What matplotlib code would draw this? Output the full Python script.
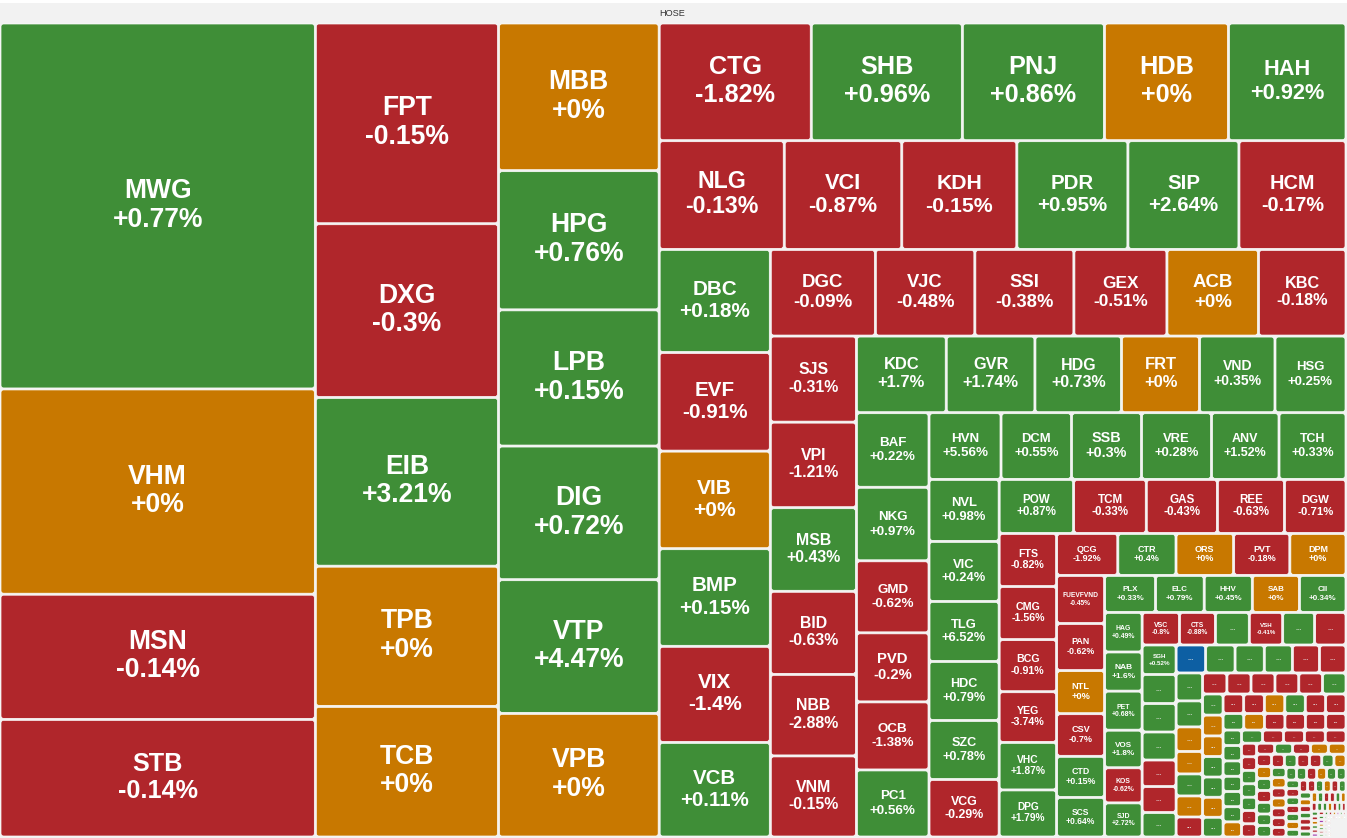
import matplotlib
matplotlib.use("Agg")
import matplotlib.pyplot as plt
from matplotlib.patches import FancyBboxPatch, Rectangle

# ---------------- data ----------------
tickers = [
    "MWG", "VHM", "MSN", "STB",
    "FPT", "DXG", "EIB", "TPB", "TCB",
    "MBB", "HPG", "LPB", "DIG", "VTP", "VPB",
    "CTG", "SHB", "PNJ", "HDB", "HAH",
    "NLG", "VCI", "KDH", "PDR", "SIP", "HCM",
    "DBC", "EVF", "VIB", "BMP", "VIX", "VCB",
    "DGC", "VJC", "SSI", "GEX", "ACB", "KBC",
    "SJS", "VPI", "MSB", "BID", "NBB", "VNM",
    "KDC", "GVR", "HDG", "FRT", "VND", "HSG",
    "BAF", "NKG", "GMD", "PVD", "OCB", "PC1",
    "HVN", "DCM", "SSB", "VRE", "ANV", "TCH",
    "NVL", "VIC", "TLG", "HDC", "SZC", "VCG",
    "POW", "TCM", "GAS", "REE", "DGW",
    "FTS", "CMG", "BCG", "YEG", "VHC", "DPG",
    "QCG", "CTR", "ORS", "PVT", "DPM",
    "FUEVFVND", "PAN", "NTL", "CSV", "CTD", "SCS",
    "PLX", "ELC", "HHV", "SAB", "CII",
    "HAG", "NAB", "PET", "VOS", "KOS", "SJD",
    "VSC", "CTS", "", "VSH", "", "",
    "SGH", "", "", "", "", "", "",
    "", "", "", "", "", "",
    "", "", "", "", "", "", "",
    "", "", "", "", "", "",
    "", "", "", "", "", "", "",
]

values = [
    115133, 64575, 39375, 37013,
    36692, 31751, 30836, 25620, 23882,
    23674, 22310, 21828, 21427, 21420, 19822,
    17860, 17743, 16685, 14570, 13806,
    13563, 12749, 12478, 12044, 12040, 11610,
    11433, 10934, 10823, 10820, 10656, 10490,
    9083, 8607, 8564, 8045, 7915, 7569,
    7396, 7353, 7181, 7138, 7009, 6966,
    6870, 6786, 6617, 5967, 5776, 5432,
    5401, 5329, 5220, 5003, 4930, 4858,
    4788, 4688, 4655, 4654, 4489, 4455,
    4340, 4200, 4199, 4130, 4129, 4025,
    4020, 3915, 3834, 3618, 3321,
    3048, 3047, 2990, 2904, 2731, 2700,
    2562, 2436, 2415, 2352, 2351,
    2304, 2256, 2064, 2040, 1968, 1896,
    1880, 1795, 1776, 1739, 1721,
    1481, 1463, 1460, 1406, 1313, 1275,
    1216, 1168, 1104, 1088, 1040, 1020,
    1000, 985, 965, 950, 900, 880, 830,
    826, 820, 815, 784, 756, 742,
    740, 689, 649, 596, 583, 557, 530,
    510, 506, 503, 500, 497, 494,
    430, 425, 420, 418, 412, 408, 403,
]

N = None
changes = [
    0.77, 0, -0.14, -0.14,
    -0.15, -0.3, 3.21, 0, 0,
    0, 0.76, 0.15, 0.72, 4.47, 0,
    -1.82, 0.96, 0.86, 0, 0.92,
    -0.13, -0.87, -0.15, 0.95, 2.64, -0.17,
    0.18, -0.91, 0, 0.15, -1.4, 0.11,
    -0.09, -0.48, -0.38, -0.51, 0, -0.18,
    -0.31, -1.21, 0.43, -0.63, -2.88, -0.15,
    1.7, 1.74, 0.73, 0, 0.35, 0.25,
    0.22, 0.97, -0.62, -0.2, -1.38, 0.56,
    5.56, 0.55, 0.3, 0.28, 1.52, 0.33,
    0.98, 0.24, 6.52, 0.79, 0.78, -0.29,
    0.87, -0.33, -0.43, -0.63, -0.71,
    -0.82, -1.56, -0.91, -3.74, 1.87, 1.79,
    -1.92, 0.4, 0, -0.18, 0,
    -0.45, -0.62, 0, -0.7, 0.15, 0.64,
    0.33, 0.79, 0.45, 0, 0.34,
    0.49, 1.6, 0.68, 1.8, -0.62, 2.72,
    -0.8, -0.88, N, -0.41, N, N,
    0.52, N, N, N, N, N, N,
    N, N, N, N, N, N,
    N, N, N, N, N, N, N,
    N, N, N, N, N, N,
    N, N, N, N, N, N, N,
]

# colour state of unlabeled ("...") tiles: g=up r=down o=reference b=floor p=ceiling
hidden_status = "ggr" "gggrrg" "bgggrr" "ggoogor" "rrrrrg" "googgog"

tail_values = [
    402, 401, 399, 398, 397, 396,
    342, 340, 339, 337, 336, 335,
    285, 283, 282, 281, 280, 279, 278,
    276, 275, 274, 273, 272,
    205, 204, 203, 202, 201, 200, 199,
    198, 197, 196, 195, 194,
    182, 180, 178, 176, 174, 172, 170,
    168, 166, 164, 162, 160, 158,
    150, 148, 146, 144, 142, 140, 138,
    132, 130, 128, 126, 124, 122,
    115, 113, 111, 109, 107, 105, 103,
    98, 96, 94, 92, 90, 88,
    82, 80, 78, 76, 74, 72, 70,
    64, 62, 60, 58, 56, 54,
    50, 48, 46, 44, 42, 40, 38,
    34, 32, 30, 29, 28, 27,
    25, 24, 23, 22, 21, 20, 19,
    18, 17, 16, 15, 14, 13, 12, 12, 11, 11, 10, 10,
    10, 10, 10, 10, 10, 10, 10, 10, 10, 10,
    10, 10, 10, 10, 10, 10, 10, 10, 10, 10,
    10, 10, 10, 10, 10, 10, 10, 10, 10, 10,
    10, 10, 10, 10, 10, 10, 10, 10, 10, 10,
]
tail_status = ("rrogrr" "gorrrr" "ggggggo" "grrrr" "rrgggrr" "rgroo" "rogrggg"
               "rgrrgo" "gororrr" "ggrogg" "grgrgog" "rrgorg" "gorgrrg" "ogrrgo"
               "rggorgr" "grogrp" "rgpogrg" "gropgrgrpgrg"
               "rgrpgogrrg" "pgrogrgrgp" "grrgogrgpr" "grggorgrgp")

# number of tiles in each successive strip of the treemap
strip_counts = [4, 5, 6, 5, 6, 6, 6, 6, 6, 6, 6, 6, 5, 6, 5, 6, 5, 6, 6, 7, 6, 7, 6, 7,
                6, 6, 7, 5, 7, 5, 7, 6, 7, 6, 7, 6, 7, 6, 7, 6, 7, 6, 6,
                7, 7, 7, 7, 6, 6]

COLORS = {"g": "#3f8e37", "r": "#b0262b", "o": "#c87800",
          "b": "#0d5fa3", "p": "#9a2fa6"}

# ---------------- build items ----------------
items = []
hid = 0
for t, v, c in zip(tickers, values, changes):
    if c is None:
        st = hidden_status[hid] if hid < len(hidden_status) else "g"
        hid += 1
        items.append(dict(label=t, value=v, change=None, color=COLORS[st]))
    else:
        st = "g" if c > 0 else ("r" if c < 0 else "o")
        items.append(dict(label=t, value=v, change=c, color=COLORS[st]))
for k, v in enumerate(tail_values):
    st = tail_status[k] if k < len(tail_status) else "g"
    items.append(dict(label="", value=v, change=None, color=COLORS[st]))

# ---------------- strip (squarified-style) layout ----------------
X0, Y0, X1, Y1 = 0.0, 23.0, 1346.0, 837.0
HALF_GAP = 1.0


def strip_layout(vals, counts, x, y, w, h):
    total = float(sum(vals))
    areas = [v / total * w * h for v in vals]
    rect = [x, y, w, h]
    out = []
    n = len(areas)
    i = 0
    k = 0
    while i < n:
        cnt = counts[k] if k < len(counts) else n - i
        k += 1
        row = list(range(i, min(n, i + cnt)))
        i += len(row)
        flush = i >= n
        horiz = rect[2] < rect[3]          # width is the shorter side -> strip along top
        fixed = rect[2] if horiz else rect[3]
        s = sum(areas[j] for j in row)
        other = s / fixed if fixed > 0 else 0
        limit = rect[3] if horiz else rect[2]
        if flush or other > limit:
            other = limit
        last = rect[0] if horiz else rect[1]
        end = (rect[0] + rect[2]) if horiz else (rect[1] + rect[3])
        for m, j in enumerate(row):
            step = areas[j] / other if other > 0 else 0
            if m == len(row) - 1:
                step = end - last
            if horiz:
                out.append((last, rect[1], step, other))
            else:
                out.append((rect[0], last, other, step))
            last += step
        if horiz:
            rect[1] += other
            rect[3] -= other
        else:
            rect[0] += other
            rect[2] -= other
    return out


cells = strip_layout([d["value"] for d in items], strip_counts, X0, Y0, X1 - X0, Y1 - Y0)

# ---------------- draw ----------------
W, H = 1347, 838
fig = plt.figure(figsize=(W / 100, H / 100), dpi=100)
ax = fig.add_axes([0, 0, 1, 1])
ax.set_xlim(0, W)
ax.set_ylim(H, 0)
ax.axis("off")

ax.add_patch(Rectangle((0, 3), W, H - 3, facecolor="#f2f2f2", edgecolor="none", zorder=0))
ax.text(672, 13.5, "HOSE", ha="center", va="center", fontsize=6.6, color="#333333",
        family=["Liberation Sans", "DejaVu Sans"], zorder=5)

PT = 0.72  # px -> pt at 100 dpi
FAM = ["Liberation Sans", "DejaVu Sans"]

for d, (cx0, cy0, cw, ch) in zip(items, cells):
    x = cx0 + HALF_GAP
    y = cy0 + HALF_GAP
    w = cw - 2 * HALF_GAP
    h = ch - 2 * HALF_GAP
    if w < 0.5 or h < 0.5:
        continue
    r = max(0.0, min(2.5, w / 3, h / 3))
    ax.add_patch(FancyBboxPatch((x, y), w, h,
                                boxstyle=f"round,pad=0,rounding_size={r}",
                                facecolor=d["color"], edgecolor="white",
                                linewidth=0.5, zorder=2))
    mx = cx0 + cw / 2
    my = cy0 + ch / 2
    if d["change"] is not None and d["label"]:
        pct = f"{d['change']:+g}%"
        maxlen = max(len(d["label"]), len(pct))
        fs = min(26.5, ch / 4.65, cw / (0.9 * maxlen))
        if fs < 3:
            continue
        ax.text(mx, my - 0.30 * fs, d["label"], ha="center", va="baseline",
                fontsize=fs * PT, color="white", fontweight="bold", family=FAM, zorder=3)
        ax.text(mx, my + 0.78 * fs, pct, ha="center", va="baseline",
                fontsize=fs * PT, color="white", fontweight="bold", family=FAM, zorder=3)
    else:
        fs = min(7.5, ch / 3.2, cw / 2.6)
        if fs >= 2.2:
            ax.text(mx, my, "...", ha="center", va="center", fontsize=fs * PT,
                    color="#e8e8e8", fontweight="bold", family=FAM, zorder=3)

fig.savefig("out.png", dpi=100)
